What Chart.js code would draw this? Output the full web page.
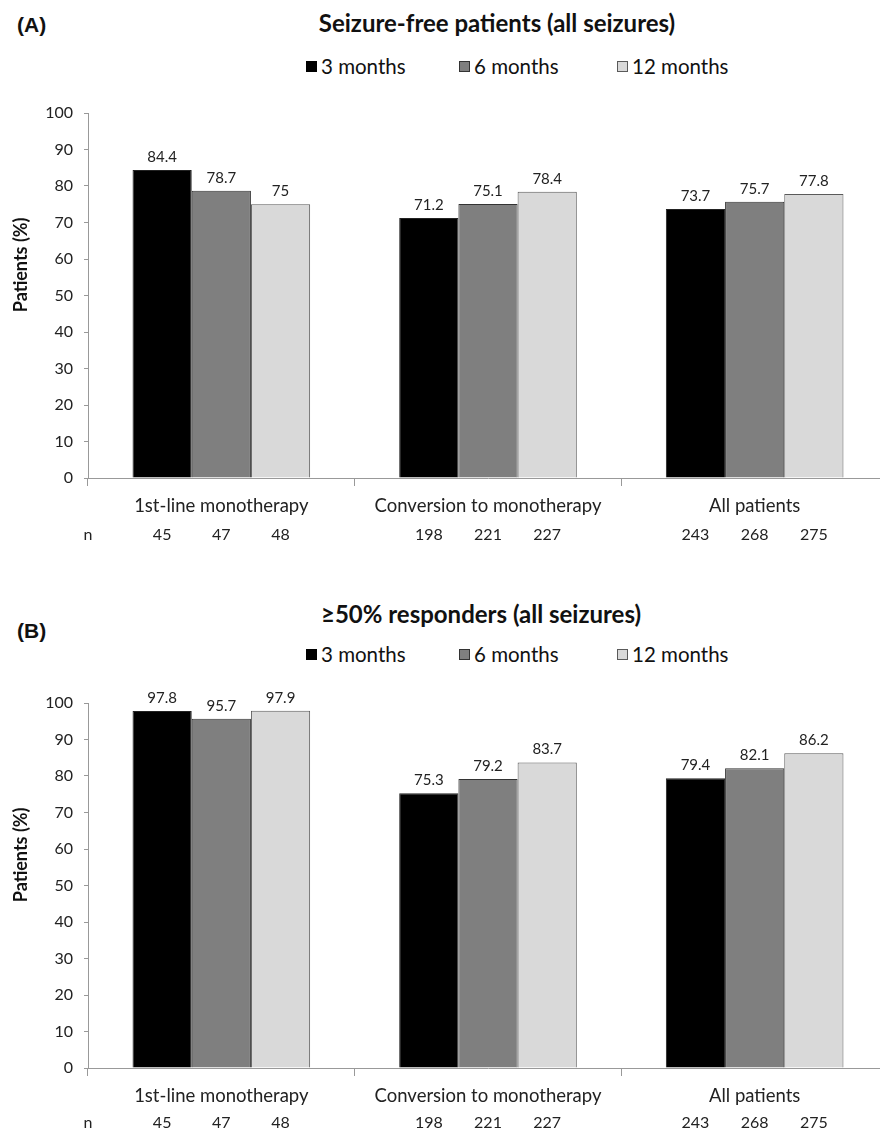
<!DOCTYPE html>
<html>
<head>
<meta charset="utf-8">
<script src="https://cdn.jsdelivr.net/npm/chart.js@4.4.1/dist/chart.umd.min.js"></script>
<style>
    body { margin: 0; background: #fff; }
    #page { position: relative; width: 880px; height: 1130px; overflow: hidden; font-family: Lato, 'Liberation Sans', sans-serif; color: #111; }
    .panel-tag { position: absolute; left: 17px; transform: translateY(-50%); font: bold 21px 'Liberation Sans', Arial, sans-serif; }
    .title { position: absolute; transform: translate(-50%, -50%); font-weight: bold; font-size: 24px; white-space: nowrap; }
    .legend { position: absolute; left: 306px; display: flex; transform: translateY(-50%); font-size: 20.5px; }
    .legend .item { display: flex; align-items: center; gap: 4px; }
    .legend .item:nth-child(1) { width: 153px; }
    .legend .item:nth-child(2) { width: 158px; }
    .legend i { display: inline-block; width: 11px; height: 11px; box-sizing: border-box; border: 1px solid #333; }
    .chart-box { position: absolute; left: 0; width: 900px; }
</style>
</head>
<body>
<div id="page">
    <div class="panel-tag" style="top:25px">(A)</div>
    <div class="title" style="left:497px; top:22px">Seizure-free patients (all seizures)</div>
    <div class="legend" id="legendA" style="top:66px"></div>
    <div class="chart-box" style="top:90px; height:470px"><canvas id="chartA"></canvas></div>

    <div class="title" style="left:481px; top:613px">≥50% responders (all seizures)</div>
    <div class="panel-tag" style="top:631px">(B)</div>
    <div class="legend" id="legendB" style="top:654px"></div>
    <div class="chart-box" style="top:680px; height:450px"><canvas id="chartB"></canvas></div>
</div>
<script>
    const categories = ['1st-line monotherapy', 'Conversion to monotherapy', 'All patients'];
    const seriesLabels = ['3 months', '6 months', '12 months'];
    const barColors = ['#000000', '#7f7f7f', '#d9d9d9'];
    const barBorders = ['#222222', '#333333', '#5a5a5a'];

    // (A) seizure-free patients, % per group
    const seizureFree3m = [84.4, 71.2, 73.7];
    const seizureFree6m = [78.7, 75.1, 75.7];
    const seizureFree12m = [75, 78.4, 77.8];

    // (B) >=50% responders, % per group
    const responders3m = [97.8, 75.3, 79.4];
    const responders6m = [95.7, 79.2, 82.1];
    const responders12m = [97.9, 83.7, 86.2];

    // number of patients under each bar
    const n3m = [45, 198, 243];
    const n6m = [47, 221, 268];
    const n12m = [48, 227, 275];

    const yMin = 0;
    const yMax = 100;
    const yStep = 10;

    // legend built from the series
    function buildLegend(id) {
        const box = document.getElementById(id);
        seriesLabels.forEach((label, i) => {
            const item = document.createElement('span');
            item.className = 'item';
            const sw = document.createElement('i');
            sw.style.background = barColors[i];
            sw.style.borderColor = i === 0 ? '#000' : barBorders[i];
            item.appendChild(sw);
            item.appendChild(document.createTextNode(label));
            box.appendChild(item);
        });
    }

    // value labels above bars, n row under the axis, y title
    const barExtras = {
        id: 'barExtras',
        afterDatasetsDraw(chart, args, opts) {
            const ctx = chart.ctx;
            const area = chart.chartArea;
            ctx.save();
            ctx.fillStyle = '#222';
            ctx.textAlign = 'center';
            ctx.textBaseline = 'middle';
            chart.data.datasets.forEach((ds, i) => {
                const meta = chart.getDatasetMeta(i);
                meta.data.forEach((bar, j) => {
                    ctx.font = '15px Lato';
                    ctx.fillText(String(ds.data[j]), bar.x, bar.y - 13);
                    ctx.font = '16px Lato';
                    ctx.fillText(String(opts.counts[i][j]), bar.x, area.bottom + opts.nOffset);
                });
            });
            ctx.font = '16px Lato';
            ctx.fillText('n', area.left, area.bottom + opts.nOffset);

            ctx.translate(21, area.top + area.height * 0.416);
            ctx.rotate(-Math.PI / 2);
            ctx.font = 'bold 18px Lato';
            ctx.fillStyle = '#111';
            ctx.fillText('Patients (%)', 0, 0);
            ctx.restore();
        }
    };

    function makeChart(canvasId, values, padBottom, nOffset) {
        return new Chart(document.getElementById(canvasId), {
            type: 'bar',
            data: {
                labels: categories,
                datasets: seriesLabels.map((label, i) => ({
                    label: label,
                    data: values[i],
                    backgroundColor: barColors[i],
                    borderColor: barBorders[i],
                    borderWidth: 1,
                    barPercentage: 1,
                    categoryPercentage: 0.666
                }))
            },
            options: {
                responsive: true,
                maintainAspectRatio: false,
                animation: false,
                layout: { padding: { top: 23, bottom: padBottom, left: 0, right: 12 } },
                plugins: {
                    legend: { display: false },
                    tooltip: { enabled: false },
                    barExtras: { counts: [n3m, n6m, n12m], nOffset: nOffset }
                },
                scales: {
                    x: {
                        grid: { display: true, drawOnChartArea: false, drawTicks: true, tickLength: 8, color: '#999', offset: true },
                        border: { color: '#999' },
                        ticks: { font: { family: 'Lato', size: 18.5 }, color: '#222', padding: 9 },
                        afterFit: (axis) => { axis.height = 40; }
                    },
                    y: {
                        min: yMin,
                        max: yMax,
                        ticks: { stepSize: yStep, font: { family: 'Lato', size: 16 }, color: '#222', padding: 11 },
                        grid: { drawOnChartArea: false, tickLength: 4, color: '#999' },
                        border: { color: '#999' },
                        afterFit: (axis) => { axis.width = 88; }
                    }
                }
            },
            plugins: [barExtras]
        });
    }

    document.addEventListener('DOMContentLoaded', () => {
        buildLegend('legendA');
        buildLegend('legendB');
        makeChart('chartA', [seizureFree3m, seizureFree6m, seizureFree12m], 42, 57);
        makeChart('chartB', [responders3m, responders6m, responders12m], 22, 55);
    });
</script>
</body>
</html>
